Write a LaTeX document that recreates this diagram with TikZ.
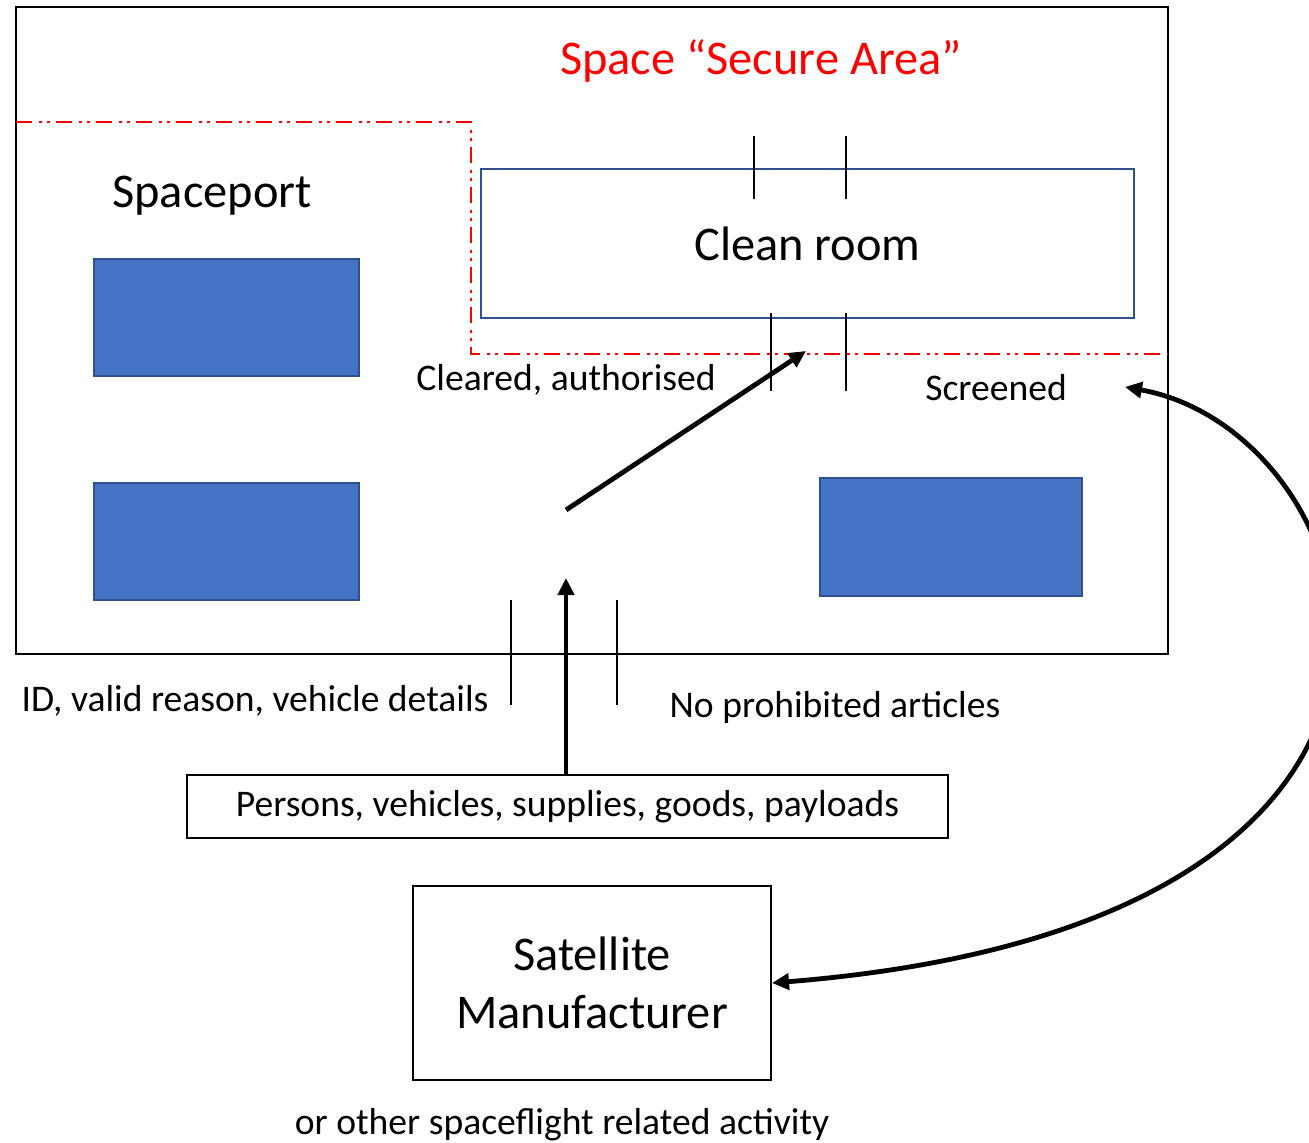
\documentclass[tikz,border=0pt]{standalone}
\usepackage{fontspec}
\setmainfont{Carlito}
\usetikzlibrary{arrows.meta}
\definecolor{offblue}{RGB}{68,114,196}
\definecolor{offedge}{RGB}{47,82,143}
\definecolor{offred}{RGB}{255,0,0}
\tikzset{
  big/.style={font=\fontsize{24.2}{29}\selectfont},
  small/.style={font=\fontsize{18.8}{22}\selectfont},
  bluebox/.style={draw=offedge,fill=offblue,line width=1pt},
  tick/.style={line width=1pt},
  redline/.style={draw=offred,line width=1.3pt,dash pattern=on 8pt off 3.5pt on 1.5pt off 2.5pt on 1.5pt off 3pt},
  tip/.tip={Triangle[length=8.5pt,width=8pt]},
  flow/.style={line width=2.4pt,-tip},
  plainbox/.style={draw,line width=1pt,inner sep=0pt},
}
\begin{document}
\begin{tikzpicture}[x=0.5pt,y=-0.5pt]
\useasboundingbox (0,0) rectangle (1309,1143);
% outer secure area
\draw[line width=1pt] (16,7) rectangle (1168,654);
\node[big,text=offred] (title) at (761,61) {Space “Secure Area”};
% red dash-dot boundary
\draw[redline] (16,122) -- (471,122) -- (471,354) -- (1168,354);
% clean room
\node[draw=offedge,line width=1pt,minimum width=653*0.5pt,minimum height=149*0.5pt,inner sep=0pt,big] (clean) at (807.5,243.5) {Clean room};
\draw[tick] (754,136) -- (754,199);
\draw[tick] (846,136) -- (846,199);
\draw[tick] (771,313) -- (771,391);
\draw[tick] (846,313) -- (846,391);
% spaceport
\node[big] (spaceport) at (212,196) {Spaceport};
\draw[bluebox] (94,259) rectangle (359,376);
\draw[bluebox] (94,483) rectangle (359,600);
\draw[bluebox] (820,478) rectangle (1082,596);
% labels
\node[small] (cleared) at (566,380) {Cleared, authorised};
\node[small] (screened) at (996,388) {Screened};
\node[small] (idtext) at (255,701) {ID, valid reason, vehicle details};
\node[small] (noproh) at (835,707) {No prohibited articles};
% bottom ticks
\draw[tick] (511,600) -- (511,705);
\draw[tick] (617,600) -- (617,705);
% persons box
\node[plainbox,small,minimum width=761*0.5pt,minimum height=63*0.5pt] (persons) at (567.5,806.5) {Persons, vehicles, supplies, goods, payloads};
% satellite box
\node[plainbox,big,minimum width=358*0.5pt,minimum height=194*0.5pt,align=center] (sat) at (592,983) {Satellite\\[0pt]Manufacturer};
\node[small] (other) at (562,1125) {or other spaceflight related activity};
% arrows
\coordinate (gate) at (566,578);
\coordinate (diagstart) at (566,510);
\coordinate (diagend) at (806,351);
\coordinate (scrarrow) at (1125,387);
\draw[flow] (persons.north -| gate) -- (gate);
\draw[flow] (diagstart) -- (diagend);
\draw[line width=2.4pt,tip-tip] (sat.east) .. controls (1530,922) and (1375,432) .. (scrarrow);
\end{tikzpicture}
\end{document}
